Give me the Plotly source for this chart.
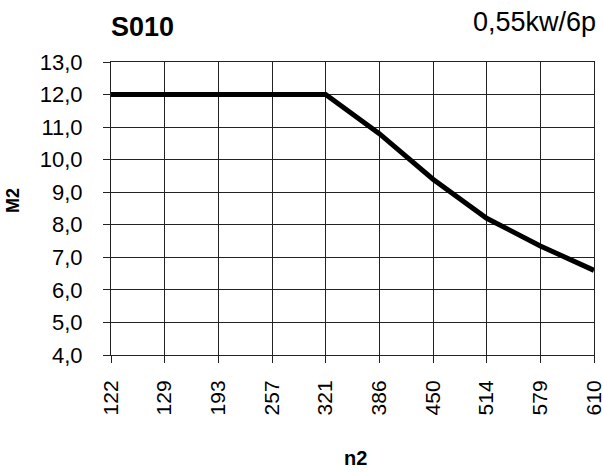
import plotly.graph_objects as go

n2_labels = ["122", "129", "193", "257", "321", "386", "450", "514", "579", "610"]
m2_values = [12.0, 12.0, 12.0, 12.0, 12.0, 10.8, 9.4, 8.2, 7.35, 6.6]
y_ticks = [4, 5, 6, 7, 8, 9, 10, 11, 12, 13]
y_ticktext = ["4,0", "5,0", "6,0", "7,0", "8,0", "9,0", "10,0", "11,0", "12,0", "13,0"]

FONT = "Liberation Sans, Arial, sans-serif"

fig = go.Figure()
fig.add_trace(go.Scatter(x=n2_labels, y=m2_values, mode="lines",
                         line=dict(color="black", width=5), showlegend=False))

L, R, T, B = 111, 9, 62, 117
W, H = 603, 472
pw, ph = W - L - R, H - T - B

def px(xp):
    return (xp - L) / pw

def py(yp):
    return (H - B - yp) / ph

fig.update_layout(
    width=W, height=H,
    margin=dict(l=L, r=R, t=T, b=B, pad=0),
    paper_bgcolor="white", plot_bgcolor="white",
    font=dict(family=FONT, size=22, color="black"),
    xaxis=dict(type="category", range=[0, 9], showgrid=True, gridcolor="#222", gridwidth=1,
               showline=True, linecolor="#222", linewidth=1, mirror=True, automargin=False,
               ticks="outside", ticklen=7, tickcolor="#222", tickangle=-90, ticklabelstandoff=9,
               tickfont=dict(family=FONT, size=21), zeroline=False),
    yaxis=dict(range=[4, 13], tickvals=y_ticks, ticktext=y_ticktext, showgrid=True,
               gridcolor="#222", gridwidth=1, showline=True, linecolor="#222", linewidth=1,
               mirror=True, ticks="outside", ticklen=7, tickcolor="#222", automargin=False,
               ticklabelstandoff=16,
               tickfont=dict(family=FONT, size=22), zeroline=False),
    annotations=[
        dict(text="<b>S010</b>", xref="paper", yref="paper", x=px(109), y=py(27),
             xanchor="left", yanchor="middle", showarrow=False, font=dict(size=27, family=FONT)),
        dict(text="0,55kw/6p", xref="paper", yref="paper", x=px(598), y=py(22),
             xanchor="right", yanchor="middle", showarrow=False, font=dict(size=27, family=FONT)),
        dict(text="<b>M2</b>", xref="paper", yref="paper", x=px(13), y=py(201),
             xanchor="center", yanchor="middle", textangle=-90, showarrow=False,
             font=dict(size=18, family=FONT)),
        dict(text="<b>n2</b>", xref="paper", yref="paper", x=px(355), y=py(458),
             xanchor="center", yanchor="middle", showarrow=False, font=dict(size=20, family=FONT)),
    ],
)

fig.write_html("out.html", config={"displayModeBar": False},
               post_script="document.body.style.margin='0';document.body.style.overflow='hidden';")
